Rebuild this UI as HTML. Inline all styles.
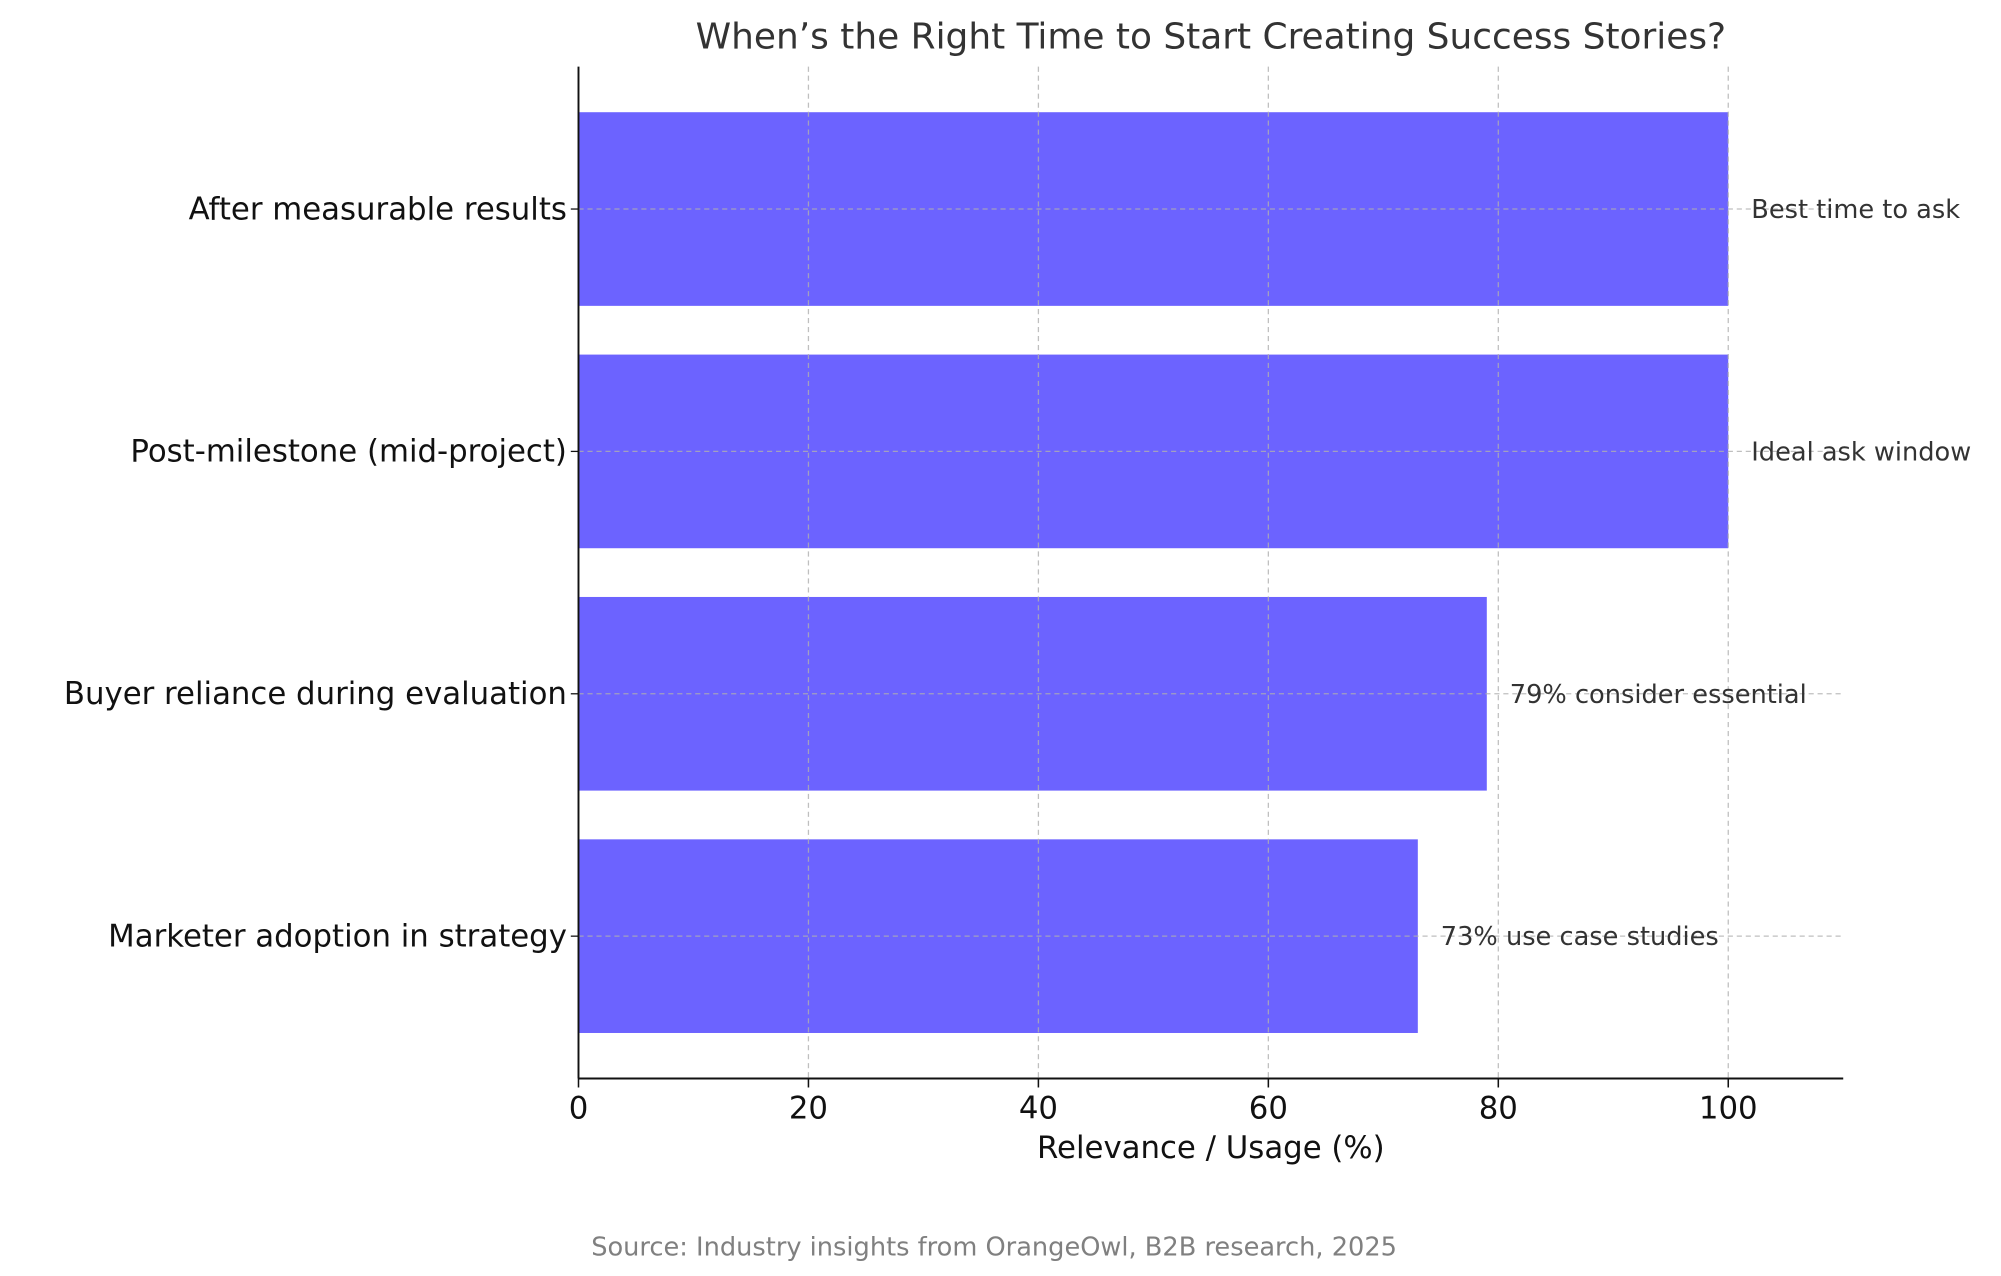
<!DOCTYPE html>
<html><head><meta charset="utf-8"><style>
html,body{margin:0;padding:0;background:#fff;}
svg{display:block;font-family:"DejaVu Sans","Liberation Sans",sans-serif;}
</style></head><body>
<svg id="chart" width="2001" height="1276" viewBox="0 0 1560 995" preserveAspectRatio="none" xmlns="http://www.w3.org/2000/svg">
<text x="944" y="38" font-size="28" fill="#333" text-anchor="middle">When’s the Right Time to Start Creating Success Stories?</text>
<g id="bars"></g>
<g id="grid"></g>
<g id="annots"></g>
<g id="axes"></g>
<text x="944" y="903" font-size="24" fill="#111" text-anchor="middle">Relevance / Usage (%)</text>
<text x="775" y="979" font-size="20" fill="#808080" text-anchor="middle">Source: Industry insights from OrangeOwl, B2B research, 2025</text>
</svg>
<script>
const categories = ["After measurable results","Post-milestone (mid-project)","Buyer reliance during evaluation","Marketer adoption in strategy"];
const values = [100,100,79,73];
const annotations = ["Best time to ask","Ideal ask window","79% consider essential","73% use case studies"];
const xTicks = [0,20,40,60,80,100];
const NS="http://www.w3.org/2000/svg";
const L=451,R=1437,T=52,B=841,XMAX=110;
const x=v=>L+(R-L)*v/XMAX;
const band=189, first=163;
const y=i=>first+i*band;
const bh=151;
function mk(tag,attrs,parent){const e=document.createElementNS(NS,tag);for(const k in attrs)e.setAttribute(k,attrs[k]);parent.appendChild(e);return e;}
const gb=document.getElementById('bars'),gg=document.getElementById('grid'),ga=document.getElementById('annots'),gx=document.getElementById('axes');
categories.forEach((c,i)=>{
  const r=mk('rect',{x:x(0),y:y(i)-bh/2,width:x(values[i])-x(0),height:bh,fill:'#6c63ff'},gb);
  
  
  const gl=mk('line',{x1:L,x2:R,y1:y(i),y2:y(i),stroke:'#b0b0b0','stroke-width':1,'stroke-dasharray':'4,3','opacity':0.8},gg);
  
  
  const lb=mk('text',{x:442,y:y(i)+8,'font-size':24,fill:'#111','text-anchor':'end'},gx);
  lb.textContent=c;
  
  
  const tk=mk('line',{x1:L-6,x2:L,y1:y(i),y2:y(i),stroke:'#111','stroke-width':1},gx);
  
  
  const an=mk('text',{x:x(values[i]+2),y:y(i)+7,'font-size':20,fill:'#333'},ga);
  an.textContent=annotations[i];
  
  
});
xTicks.forEach(t=>{
  if(t>0){const gl=mk('line',{x1:x(t),x2:x(t),y1:T,y2:B,stroke:'#b0b0b0','stroke-width':1,'stroke-dasharray':'4,3','opacity':0.8},gg);
  
  }
  const tk=mk('line',{x1:x(t),x2:x(t),y1:B,y2:B+7,stroke:'#111','stroke-width':1.2},gx);
  
  
  const lb=mk('text',{x:x(t),y:B+31,'font-size':24,fill:'#111','text-anchor':'middle'},gx);
  lb.textContent=t;
  
  
});
const ya=mk('line',{x1:L,x2:L,y1:T,y2:B,stroke:'#111','stroke-width':1.5},gx);


const xa=mk('line',{x1:L,x2:R,y1:B,y2:B,stroke:'#111','stroke-width':1.5},gx);


</script>
</body></html>
